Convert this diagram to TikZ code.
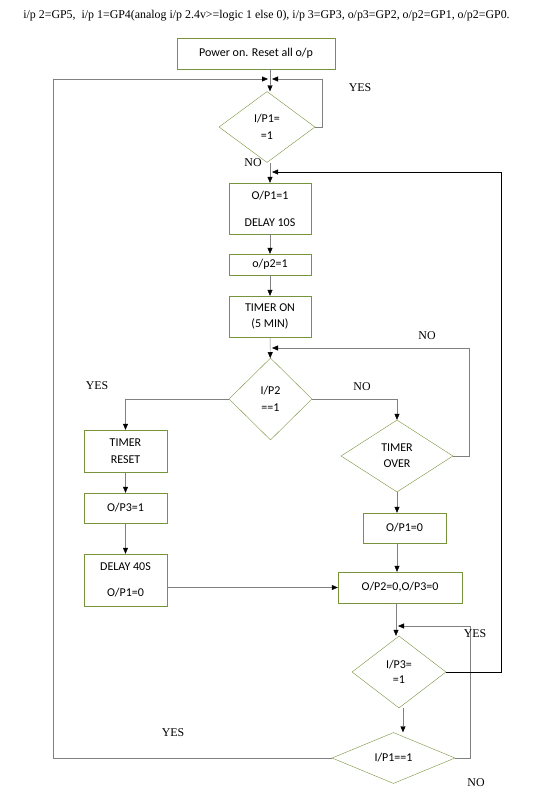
\documentclass[tikz,border=0pt]{standalone}
\usepackage{fontspec}
\setmainfont{Liberation Serif}
\newfontfamily\boxfont{Carlito}
\usetikzlibrary{shapes.geometric,arrows.meta,positioning}
\definecolor{boxgreen}{RGB}{119,147,60}
\definecolor{linegray}{RGB}{128,128,128}
\tikzset{
  blk/.style={draw=boxgreen, rectangle, inner sep=1pt, align=center,
    font=\boxfont\fontsize{12}{14}\selectfont},
  dec/.style={draw=boxgreen, diamond, inner sep=0pt, align=center,
    font=\boxfont\fontsize{12}{14}\selectfont},
  conn/.style={draw=linegray, -{Triangle[black,length=6pt,width=5pt]}},
  lbl/.style={font=\fontsize{11.9}{13}\selectfont}
}

\begin{document}
\begin{tikzpicture}[x=1pt,y=-1pt]
    \useasboundingbox (0,0) rectangle (533,798);
    \node[lbl] (title) at (266.5,16) {i/p 2=GP5,\ \ i/p 1=GP4(analog i/p 2.4v>=logic 1 else 0), i/p 3=GP3, o/p3=GP2, o/p2=GP1, o/p2=GP0.};

    % main column
    \node[blk, minimum width=158pt, minimum height=31pt] (pwr) at (256,53.5) {Power on. Reset all o/p};
    \node[dec, minimum width=96pt, minimum height=71pt] (d1) at (267,127) {I/P1=\\[3pt]=1};
    \node[blk, minimum width=82pt, minimum height=51pt] (b1) at (270,208.5) {O/P1=1\\[13pt]DELAY 10S};
    \node[blk, minimum width=82pt, minimum height=21pt] (b2) at (270,264.5) {o/p2=1};
    \node[blk, minimum width=82pt, minimum height=41pt] (b3) at (270,316.5) {TIMER ON\\[2pt](5 MIN)};
    \node[dec, minimum width=83pt, minimum height=82pt] (d2) at (270.5,399) {I/P2\\[3pt]==1};

    % left branch
    \node[blk, minimum width=83pt, minimum height=42pt] (b4) at (125.5,451) {TIMER\\[3pt]RESET};
    \node[blk, minimum width=83pt, minimum height=30pt] (b5) at (125.5,508) {O/P3=1};
    \node[blk, minimum width=83pt, minimum height=52pt] (b6) at (125.5,580) {DELAY 40S\\[12pt]O/P1=0};

    % right branch
    \node[dec, minimum width=112pt, minimum height=72pt] (d3) at (397,456) {TIMER\\[2pt]OVER};
    \node[blk, minimum width=83pt, minimum height=30pt] (b7) at (404.5,528) {O/P1=0};
    \node[blk, minimum width=124pt, minimum height=31pt] (b8) at (400,587.5) {O/P2=0,O/P3=0};
    \node[dec, minimum width=94pt, minimum height=72pt] (d4) at (399,672) {I/P3=\\[1pt]=1};
    \node[dec, minimum width=123pt, minimum height=51pt] (d5) at (393.5,758) {I/P1==1};

    \coordinate (j1) at (270,79);
    \coordinate (j2) at (270,172);
    \coordinate (j3) at (270,348);
    \coordinate (j4) at (396,626);

    % straight arrows
    \draw[conn] (pwr.south -| j1) -- (d1.north -| j1);
    \draw[conn] (d1.south -| j2) -- (b1.north);
    \draw[conn] (b1) -- (b2);
    \draw[conn] (b2) -- (b3);
    \draw[conn] (b3) -- (d2);
    \draw[conn] (b4) -- (b5);
    \draw[conn] (b5) -- (b6);
    \draw[conn] (d3.south) -- (b7.north -| d3.south);
    \draw[conn] (b7.south -| d3.south) -- (b8.north -| d3.south);
    \draw[conn] (b6.east |- b8.west) -- (b8.west);
    \draw[conn] (b8.south -| j4) -- (d4.north -| j4);
    \draw[conn] (d4.south -| 403,0) -- (d5.north -| 403,0);

    % branches and loops
    \draw[conn] (d2.west) -| (b4.north);
    \draw[conn] (d2.east) -| (d3.north);
    \draw[conn] (d1.east) -- (322,127) |- ([xshift=2pt]j1);
    \draw[conn] (d5.west) -- (53,758) |- ([xshift=-2pt]j1);
    \draw[conn] (d3.east) -- (469,456) |- ([xshift=2pt]j3);
    \draw[conn] (d5.east) -- (470,758) |- ([xshift=2pt]j4);
    \draw[conn, draw=black] (d4.east) -- (501,672) |- ([xshift=2pt]j2);

    % labels
    \node[lbl] (yes1) at (360,88) {YES};
    \node[lbl] (no1) at (253,163) {NO};
    \node[lbl] (no2) at (427,336) {NO};
    \node[lbl] (yes2) at (97,386) {YES};
    \node[lbl] (no3) at (362,387) {NO};
    \node[lbl] (yes3) at (475,634) {YES};
    \node[lbl] (yes4) at (173,733) {YES};
    \node[lbl] (no4) at (476,783) {NO};
\end{tikzpicture}
\end{document}
